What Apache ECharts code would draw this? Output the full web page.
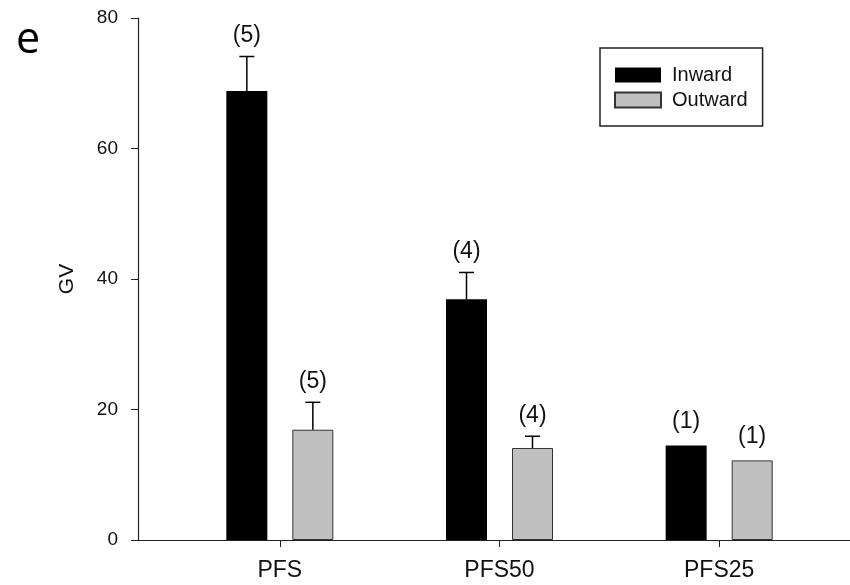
<!DOCTYPE html>
<html>
<head>
<meta charset="utf-8">
<script src="https://cdn.jsdelivr.net/npm/echarts@6/dist/echarts.min.js"></script>
<style>html,body{margin:0;padding:0;background:#fff;}#c{width:850px;height:585px;}</style>
</head>
<body>
<div id="c"></div>
<script>
const categories = ['PFS', 'PFS50', 'PFS25'];
const inwardValues = [68.8, 36.9, 14.5];
const inwardSE = [5.3, 4.1, 0];
const inwardN = [5, 4, 1];
const outwardValues = [16.9, 14.1, 12.2];
const outwardSE = [4.2, 1.8, 0];
const outwardN = [5, 4, 1];
const yTicks = [0, 20, 40, 60, 80];

const FONT = 'Liberation Sans, Arial, sans-serif';
const BAR_W = 41, BAR_GAP = 25;
const OFFSET = (BAR_W + BAR_GAP) / 2;

function errData(vals, se, n) {
  return vals.map((v, i) => [i, v, se[i], n[i]]);
}
function makeRender(sign) {
  return function (params, api) {
    const i = api.value(0), v = api.value(1), se = api.value(2), n = api.value(3);
    const base = api.coord([i, v]);
    const top = api.coord([i, v + se]);
    const x = base[0] + sign * OFFSET;
    const children = [];
    if (se > 0) {
      children.push({type: 'line', shape: {x1: x, y1: base[1], x2: x, y2: top[1]}, style: {stroke: '#000', lineWidth: 1.5}});
      children.push({type: 'line', shape: {x1: x - 7.5, y1: top[1], x2: x + 7.5, y2: top[1]}, style: {stroke: '#000', lineWidth: 1.5}});
    }
    children.push({type: 'text', style: {text: '(' + n + ')', x: x, y: top[1] - (se > 0 ? 9 : 12), textAlign: 'center', textVerticalAlign: 'bottom', font: '23px ' + FONT, fill: '#111'}});
    return {type: 'group', children: children};
  };
}

const chart = echarts.init(document.getElementById('c'), null, {renderer: 'canvas'});
chart.setOption({
  animation: false,
  backgroundColor: '#fff',
  title: {text: 'e', left: 11, top: 14, textStyle: {fontFamily: 'Open Sans', fontSize: 43, fontWeight: 'normal', color: '#000'}},
  legend: {
    data: ['Inward', 'Outward'], orient: 'vertical', left: 600, top: 48,
    padding: [17, 15, 16, 14], itemWidth: 46, itemHeight: 15, itemGap: 5,
    borderColor: '#222', borderWidth: 1.5, icon: 'rect',
    textStyle: {fontFamily: FONT, fontSize: 20, color: '#111', padding: [0, 0, 0, 6]}
  },
  grid: [
    {left: 138, right: 0, top: 18, bottom: 45},
    {left: 170, right: 21, top: 18, bottom: 45}
  ],
  xAxis: [
    {gridIndex: 0, type: 'value', min: 0, max: 1, axisLine: {show: true, onZero: false, lineStyle: {color: '#222', width: 1.2}}, axisTick: {show: false}, axisLabel: {show: false}, splitLine: {show: false}},
    {gridIndex: 1, type: 'category', data: categories, axisLine: {show: false}, axisTick: {show: true, alignWithLabel: true, length: 7, lineStyle: {color: '#222'}}, axisLabel: {fontFamily: FONT, fontSize: 23, color: '#111', margin: 19}}
  ],
  yAxis: [
    {gridIndex: 0, type: 'value', min: 0, max: 80, interval: 20, name: 'GV', nameLocation: 'middle', nameRotate: 90, nameGap: 60,
      nameTextStyle: {fontFamily: FONT, fontSize: 21, color: '#111'},
      axisLine: {show: true, lineStyle: {color: '#222', width: 1.2}}, axisTick: {show: true, length: 7, lineStyle: {color: '#222'}},
      axisLabel: {fontFamily: FONT, fontSize: 19, color: '#111', margin: 20, customValues: yTicks}, splitLine: {show: false}},
    {gridIndex: 1, type: 'value', min: 0, max: 80, show: false}
  ],
  series: [
    {name: 'Inward', type: 'bar', xAxisIndex: 1, yAxisIndex: 1, data: inwardValues, barWidth: BAR_W, barGap: (BAR_GAP / BAR_W * 100) + '%', itemStyle: {color: '#000'}},
    {name: 'Outward', type: 'bar', xAxisIndex: 1, yAxisIndex: 1, data: outwardValues, barWidth: BAR_W, itemStyle: {color: '#c0c0c0', borderColor: '#333', borderWidth: 1}},
    {type: 'custom', xAxisIndex: 1, yAxisIndex: 1, data: errData(inwardValues, inwardSE, inwardN), renderItem: makeRender(-1), z: 5},
    {type: 'custom', xAxisIndex: 1, yAxisIndex: 1, data: errData(outwardValues, outwardSE, outwardN), renderItem: makeRender(1), z: 5}
  ]
});
</script>
</body>
</html>
